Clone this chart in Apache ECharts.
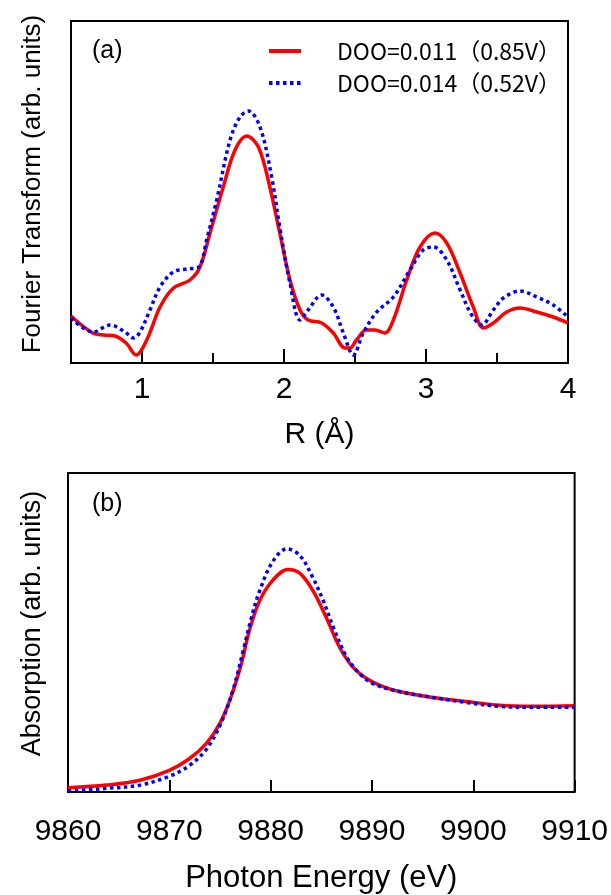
<!DOCTYPE html>
<html>
<head>
<meta charset="utf-8">
<script src="https://cdn.jsdelivr.net/npm/echarts@6/dist/echarts.min.js"></script>
<style>
html,body{margin:0;padding:0;background:#fff;}
#c{width:611px;height:895px;}
</style>
</head>
<body>
<div id="c"></div>
<script>
// ---- Panel (a): Fourier transform vs R (Å) ----
const rRed  = [0.5,0.657,0.73,0.81,0.89,0.958,1.033,1.127,1.22,1.338,1.408,1.479,1.572,1.655,1.737,1.82,1.90,1.97,2.042,2.113,2.17,2.265,2.347,2.43,2.465,2.51,2.58,2.64,2.71,2.77,2.864,2.958,3.063,3.146,3.24,3.333,3.404,3.474,3.568,3.662,3.78,3.896,4.0];
const ftRed = [47,29.7,28,27,19.7,8,23,56,74.7,83,96,130,176,213,227,216,176,130,83,53,43,40,30,15,15,23,33,33,30,43,83,116,130,120,90,56,35,40,51,55,51,46,40];
const rBlue  = [0.5,0.657,0.775,0.88,0.94,0.986,1.056,1.127,1.22,1.315,1.40,1.455,1.526,1.62,1.69,1.749,1.831,1.913,1.97,2.042,2.113,2.17,2.265,2.347,2.418,2.488,2.558,2.653,2.77,2.887,2.98,3.052,3.146,3.24,3.322,3.392,3.474,3.545,3.662,3.78,3.896,4.0];
const ftBlue = [45,31,38,31,25,31,53,76,91,94,96,123,163,223,246,252,236,186,136,80,43,53,68,56,30,8,30,51,66,93,113,116,103,73,48,38,53,65,72,66,58,46];
const rTicks = [1,2,3,4];
const rMinorTicks = [1.5,2.5,3.5];

// ---- Panel (b): absorption vs photon energy (eV) ----
const eRed   = [9860,9863.8,9867.1,9870,9872,9873.7,9875,9876.1,9877.1,9877.9,9878.9,9880.2,9881.7,9882.9,9884.2,9885.5,9886.8,9888.1,9889.5,9891.1,9892.7,9896,9899.3,9902.6,9905.9,9910];
const absRed = [4.3,7,12,22,34,50,70,97,130,164,194,215,226,222,204,177,147,127,115,107,102,96,92,88,87,87.7];
const eBlue   = [9860,9863.8,9867.1,9870,9872,9873.7,9875.1,9876.3,9877.3,9878.1,9878.9,9880.2,9881.6,9882.9,9884.2,9885.2,9886.2,9887.5,9888.8,9890.1,9892.7,9896,9899.3,9902.6,9905.9,9910];
const absBlue = [1,3.7,7,16,27,44,70,104,144,177,204,234,247,240,217,194,167,137,120,110,102,96,91,87,86,86];

const nameRed  = 'DOO=0.011\uFF080.85V\uFF09';
const nameBlue = 'DOO=0.014\uFF080.52V\uFF09';

const zip = (xs, ys) => xs.map((x, i) => [x, ys[i]]);
const FONT = '"Liberation Sans", Arial, sans-serif';
const RED = '#ff0000', BLUE = '#0000ff';
const redLine  = {color: RED, width: 3.5, type: 'solid'};
const blueLine = {color: BLUE, width: 3.5, type: [3.5, 3.5], cap: 'butt'};

const chart = echarts.init(document.getElementById('c'), null, {renderer: 'canvas'});
chart.setOption({
  animation: false,
  backgroundColor: '#fff',
  title: [
    {text: '(a)', left: 92, top: 39, padding: 0, textStyle: {fontFamily: FONT, fontSize: 25, fontWeight: 'normal', color: '#000'}},
    {text: '(b)', left: 92, top: 492, padding: 0, textStyle: {fontFamily: FONT, fontSize: 25, fontWeight: 'normal', color: '#000'}}
  ],
  legend: {
    data: [nameRed, nameBlue],
    orient: 'vertical',
    left: 267, top: 39,
    padding: 0,
    itemWidth: 32, itemHeight: 14,
    itemGap: 8,
    selectedMode: false,
    itemStyle: {opacity: 0},
    lineStyle: {width: 4},
    textStyle: {fontFamily: '"Noto Sans CJK JP", sans-serif', fontSize: 23, color: '#000', lineHeight: 24, padding: [0, 0, 0, 31]}
  },
  grid: [
    {left: 71, right: 43, top: 21, height: 342, show: true, borderColor: '#000', borderWidth: 2, containLabel: false},
    {left: 68, right: 36, top: 473, height: 324, show: true, borderColor: '#000', borderWidth: 2, containLabel: false}
  ],
  xAxis: [
    {
      type: 'value', gridIndex: 0, min: 0.5, max: 4,
      name: 'R (Å)', nameLocation: 'middle', nameGap: 57,
      nameTextStyle: {fontFamily: FONT, fontSize: 30, color: '#000'},
      axisLine: {show: false},
      splitLine: {show: false},
      axisTick: {show: true, inside: true, length: 14, customValues: rTicks, lineStyle: {color: '#000', width: 2}},
      axisLabel: {show: true, customValues: rTicks, margin: 12, fontFamily: FONT, fontSize: 30, color: '#000'}
    },
    {
      type: 'value', gridIndex: 0, min: 0.5, max: 4, position: 'bottom',
      axisLine: {show: false}, splitLine: {show: false}, axisLabel: {show: false},
      axisTick: {show: true, inside: true, length: 10, customValues: rMinorTicks, lineStyle: {color: '#000', width: 2}}
    },
    {
      type: 'value', gridIndex: 1, min: 9860, max: 9910, interval: 10,
      name: 'Photon Energy (eV)', nameLocation: 'middle', nameGap: 71,
      nameTextStyle: {fontFamily: FONT, fontSize: 31, color: '#000'},
      axisLine: {show: false},
      splitLine: {show: false},
      axisTick: {show: true, inside: true, length: 12, lineStyle: {color: '#000', width: 2}},
      axisLabel: {show: true, margin: 25, fontFamily: FONT, fontSize: 30, color: '#000', formatter: v => String(v)}
    }
  ],
  yAxis: [
    {
      type: 'value', gridIndex: 0, min: 0, max: 342,
      name: 'Fourier Transform (arb. units)', nameLocation: 'middle', nameGap: 25,
      nameTextStyle: {fontFamily: FONT, fontSize: 26, color: '#000', padding: [0, 0, 0, 16]},
      axisLine: {show: false}, axisTick: {show: false}, axisLabel: {show: false}, splitLine: {show: false}
    },
    {
      type: 'value', gridIndex: 1, min: 0, max: 324,
      name: 'Absorption (arb. units)', nameLocation: 'middle', nameGap: 22,
      nameTextStyle: {fontFamily: FONT, fontSize: 27, color: '#000', padding: [0, 0, 0, 18]},
      axisLine: {show: false}, axisTick: {show: false}, axisLabel: {show: false}, splitLine: {show: false}
    }
  ],
  series: [
    {name: nameRed, type: 'line', xAxisIndex: 0, yAxisIndex: 0, data: zip(rRed, ftRed), smooth: 0.35, symbol: 'none', lineStyle: redLine, itemStyle: {color: RED}, z: 3},
    {name: nameBlue, type: 'line', xAxisIndex: 0, yAxisIndex: 0, data: zip(rBlue, ftBlue), smooth: 0.35, symbol: 'none', lineStyle: blueLine, itemStyle: {color: BLUE}, z: 4},
    {name: nameRed, type: 'line', xAxisIndex: 2, yAxisIndex: 1, data: zip(eRed, absRed), smooth: 0.35, symbol: 'none', lineStyle: redLine, itemStyle: {color: RED}, z: 3},
    {name: nameBlue, type: 'line', xAxisIndex: 2, yAxisIndex: 1, data: zip(eBlue, absBlue), smooth: 0.35, symbol: 'none', lineStyle: blueLine, itemStyle: {color: BLUE}, z: 4}
  ]
});
</script>
</body>
</html>
